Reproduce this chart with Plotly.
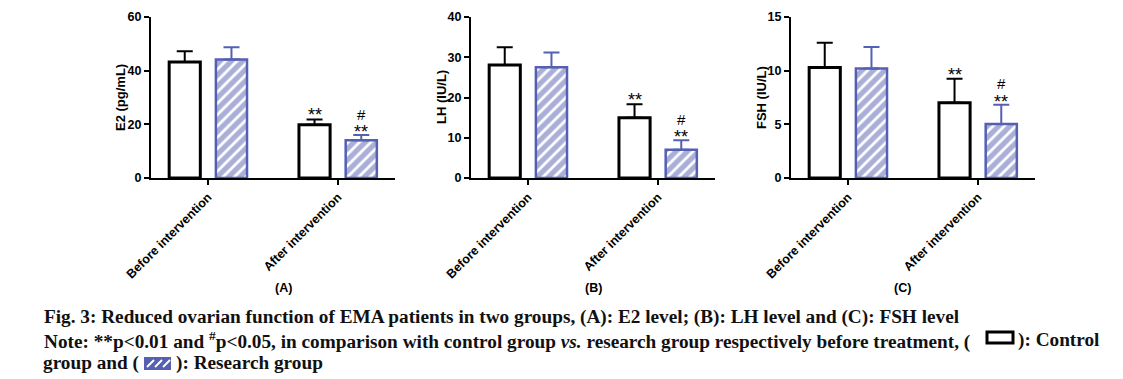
import plotly.graph_objects as go

categories = ["Before intervention", "After intervention"]
panels = ["(A)", "(B)", "(C)"]
y_titles = ["E2 (pg/mL)", "LH (IU/L)", "FSH (IU/L)"]
y_max = [60, 40, 15]
y_dtick = [20, 10, 5]

e2_control = [43.2, 19.8]
e2_control_err = [4.0, 2.0]
e2_research = [44.2, 14.1]
e2_research_err = [4.5, 1.9]

lh_control = [28.1, 15.0]
lh_control_err = [4.4, 3.3]
lh_research = [27.5, 7.0]
lh_research_err = [3.7, 2.4]

fsh_control = [10.3, 7.0]
fsh_control_err = [2.3, 2.25]
fsh_research = [10.2, 5.03]
fsh_research_err = [2.0, 1.8]

# significance marks over [before, after]
control_stars = ["", "**"]
research_stars = ["", "**"]
research_hash = ["", "#"]

control_sets = [(e2_control, e2_control_err), (lh_control, lh_control_err), (fsh_control, fsh_control_err)]
research_sets = [(e2_research, e2_research_err), (lh_research, lh_research_err), (fsh_research, fsh_research_err)]

BLUE = "#5560b2"
W, H = 1123, 379
x_domains = [[151 / W, 395 / W], [471 / W, 715 / W], [791 / W, 1035 / W]]
y_domain = [1 - 178 / H, 1 - 17 / H]
title_right = [130 / W, 451 / W, 771 / W]

fig = go.Figure()
xpos = list(range(len(categories)))
BW = 0.24
OFF_C = -0.30
OFF_R = 0.06
SANS = "Liberation Sans, Arial"
font_b = dict(family=SANS, size=12.5, color="black", weight="bold")
star_font = dict(family=SANS, size=18, color="black")
hash_font = dict(family=SANS, size=15, color="black")

for i in range(3):
    xa = "x" if i == 0 else f"x{i+1}"
    ya = "y" if i == 0 else f"y{i+1}"
    cv, ce = control_sets[i]
    rv, re = research_sets[i]
    fig.add_trace(go.Bar(
        x=xpos, y=cv, width=BW, offset=OFF_C, xaxis=xa, yaxis=ya,
        marker=dict(color="white", line=dict(color="black", width=3)),
        error_y=dict(type="data", array=ce, arrayminus=[0] * len(ce), symmetric=False,
                     color="black", thickness=2, width=8),
        showlegend=False,
    ))
    fig.add_trace(go.Bar(
        x=xpos, y=rv, width=BW, offset=OFF_R, xaxis=xa, yaxis=ya,
        marker=dict(color="white", line=dict(color=BLUE, width=2.5),
                    pattern=dict(shape="/", fgcolor=BLUE, bgcolor="white", size=8, solidity=0.65)),
        error_y=dict(type="data", array=re, arrayminus=[0] * len(re), symmetric=False,
                     color=BLUE, thickness=2, width=8),
        showlegend=False,
    ))
    axis_common = dict(showline=True, linecolor="black", linewidth=2, ticks="outside",
                       tickwidth=2, ticklen=5, tickcolor="black", showgrid=False, zeroline=False,
                       tickfont=font_b, automargin=False)
    fig.layout[f"xaxis{'' if i == 0 else i+1}"] = dict(
        domain=x_domains[i], anchor=ya, range=[-0.44, 1.44],
        tickmode="array", tickvals=xpos, ticktext=categories, tickangle=-45, **axis_common)
    fig.layout[f"yaxis{'' if i == 0 else i+1}"] = dict(
        domain=y_domain, anchor=xa, range=[0, y_max[i]], dtick=y_dtick[i], **axis_common)
    # y-axis title
    fig.add_annotation(x=title_right[i], y=sum(y_domain) / 2, xref="paper", yref="paper",
                       text=y_titles[i], textangle=-90, showarrow=False,
                       xanchor="right", yanchor="middle",
                       font=dict(family=SANS, size=13, color="black", weight="bold"))
    for j in range(len(categories)):
        if control_stars[j]:
            fig.add_annotation(x=xpos[j] + OFF_C + BW / 2, y=cv[j] + ce[j], xref=xa, yref=ya,
                               text=control_stars[j], showarrow=False, yanchor="middle", yshift=4,
                               font=star_font)
        if research_stars[j]:
            fig.add_annotation(x=xpos[j] + OFF_R + BW / 2, y=rv[j] + re[j], xref=xa, yref=ya,
                               text=research_stars[j], showarrow=False, yanchor="middle", yshift=3,
                               font=star_font)
        if research_hash[j]:
            fig.add_annotation(x=xpos[j] + OFF_R + BW / 2, y=rv[j] + re[j], xref=xa, yref=ya,
                               text=research_hash[j], showarrow=False, yanchor="middle", yshift=21,
                               font=hash_font)
    fig.add_annotation(x=sum(x_domains[i]) / 2, y=1 - 288 / H, xref="paper", yref="paper",
                       text=panels[i], showarrow=False, yanchor="middle", font=font_b)

cap_font = dict(family="Liberation Serif, Times New Roman", size=19.25, color="#111111", weight="bold")


def px(x):
    return x / W


def py(y):
    return 1 - y / H


line1 = "Fig. 3: Reduced ovarian function of EMA patients in two groups, (A): E2 level; (B): LH level and (C): FSH level"
line2a = ("Note: **p<0.01 and <sup>#</sup>p<0.05, in comparison with control group <i>vs.</i>"
          " research group respectively before treatment, (")
line2b = "): Control"
line3a = "group and ("
line3b = "): Research group"

fig.add_annotation(x=px(42), y=py(317), xref="paper", yref="paper", text=line1, showarrow=False,
                   xanchor="left", yanchor="middle", font=cap_font)
fig.add_annotation(x=px(42), y=py(340), xref="paper", yref="paper", text=line2a, showarrow=False,
                   xanchor="left", yanchor="middle", font=cap_font)
fig.add_annotation(x=px(1102), y=py(340), xref="paper", yref="paper", text=line2b, showarrow=False,
                   xanchor="right", yanchor="middle", font=cap_font)
fig.add_annotation(x=px(141), y=py(363), xref="paper", yref="paper", text=line3a, showarrow=False,
                   xanchor="right", yanchor="middle", font=cap_font)
fig.add_annotation(x=px(174), y=py(363), xref="paper", yref="paper", text=line3b, showarrow=False,
                   xanchor="left", yanchor="middle", font=cap_font)

# legend-like icons inside the caption
fig.add_shape(type="rect", xref="paper", yref="paper", x0=px(987), x1=px(1013), y0=py(343), y1=py(332),
              line=dict(color="black", width=3), fillcolor="white")
fig.add_shape(type="rect", xref="paper", yref="paper", x0=px(144), x1=px(171), y0=py(370), y1=py(357),
              line=dict(color=BLUE, width=0), fillcolor=BLUE)
for k in range(3):
    x0 = 147 + k * 8
    fig.add_shape(type="line", xref="paper", yref="paper", x0=px(x0), x1=px(x0 + 7), y0=py(367), y1=py(360),
                  line=dict(color="white", width=2))

fig.update_layout(
    width=W, height=H, margin=dict(l=0, r=0, t=0, b=0),
    paper_bgcolor="white", plot_bgcolor="white", barmode="overlay",
)
fig.write_html("out.html", config={"displayModeBar": False},
               post_script="document.body.style.margin='0';document.body.style.overflow='hidden';")
